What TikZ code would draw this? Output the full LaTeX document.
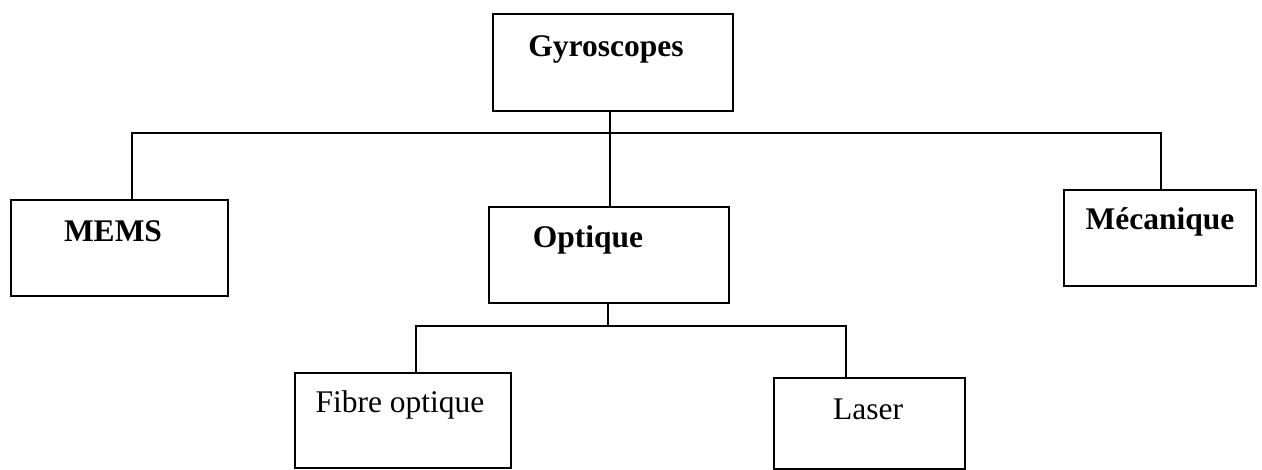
\documentclass[tikz,border=0pt]{standalone}
\usepackage{fontspec}
\setmainfont{Liberation Serif}
\begin{document}
\begin{tikzpicture}[x=1pt,y=-1pt,
  box/.style={draw, line width=1.9pt, rectangle, inner sep=0pt, anchor=north west},
  wire/.style={line width=1.9pt},
  title/.style={anchor=base, inner sep=0pt, font=\fontsize{31.5}{36}\selectfont\bfseries},
  plain/.style={anchor=base, inner sep=0pt, font=\fontsize{31.5}{36}\selectfont}]
  \useasboundingbox (0,0) rectangle (1262,470);

  % boxes
  \node[box, minimum width=240pt, minimum height=97pt] (gyro) at (492,13) {};
  \node[box, minimum width=217pt, minimum height=96pt] (mems) at (10,199) {};
  \node[box, minimum width=240pt, minimum height=96pt] (opt) at (488,206) {};
  \node[box, minimum width=192pt, minimum height=96pt] (meca) at (1063,189) {};
  \node[box, minimum width=216pt, minimum height=95pt] (fibre) at (294,372) {};
  \node[box, minimum width=191pt, minimum height=91pt] (laser) at (773,377) {};

  % labels
  \node[title] (tgyro) at (606,57) {Gyroscopes};
  \node[title] (tmems) at (113,242) {MEMS};
  \node[title] (topt) at (588,248) {Optique};
  \node[title] (tmeca) at (1160,230) {Mécanique};
  \node[plain] (tfibre) at (400,413) {Fibre optique};
  \node[plain] (tlaser) at (868,420) {Laser};

  % upper level connectors
  \coordinate (bus) at (610,133);
  \coordinate (busL) at (132,133);
  \coordinate (busR) at (1161,133);
  \draw[wire] (gyro.south -| bus) -- (opt.north -| bus);
  \draw[wire, line join=miter] (mems.north -| busL) -- (busL) -- (busR) -- (meca.north -| busR);

  % lower level connectors
  \coordinate (sub) at (608,326);
  \coordinate (subL) at (416,326);
  \coordinate (subR) at (846,326);
  \draw[wire] (opt.south -| sub) -- (sub);
  \draw[wire, line join=miter] (fibre.north -| subL) -- (subL) -- (subR) -- (laser.north -| subR);
\end{tikzpicture}
\end{document}
